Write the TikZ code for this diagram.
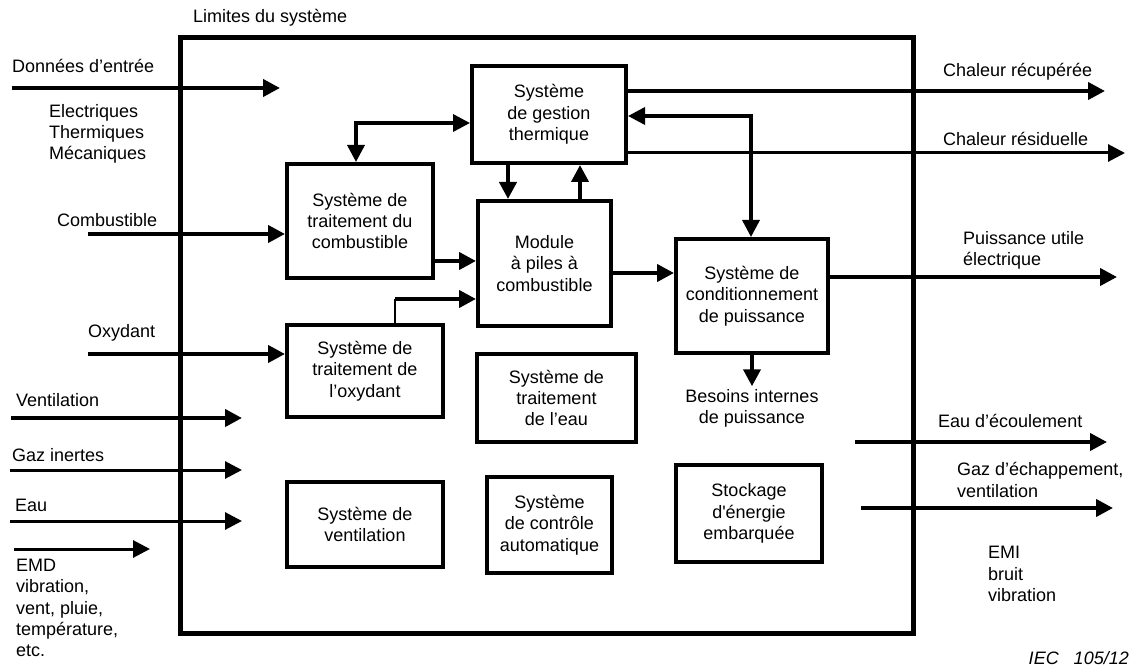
\documentclass[tikz,border=0pt]{standalone}
\usepackage{fontspec}
\setmainfont{Liberation Sans}
\usetikzlibrary{arrows.meta}
\tikzset{
  boundary/.style={ % the system limits
    draw, rectangle, line width=5pt,
    minimum width=733pt, minimum height=595pt
  },
  sysbox/.style={ % image of a subsystem block
    draw, rectangle, line width=4pt,
    align=center, inner sep=2pt, text=black
  },
  lbl/.style={ % free text beside the flows
    anchor=west, inner sep=0pt, align=left
  },
  flow/.style={ % a thick flow arrow
    line width=4pt, -{Triangle[length=17pt,width=17pt]}
  },
  thinflow/.style={
    line width=3pt, -{Triangle[length=17pt,width=17pt]}
  },
  twoway/.style={ % arrow both ways
    line width=3.5pt,
    {Triangle[length=17pt,width=17pt]}-{Triangle[length=17pt,width=17pt]}
  }
}

\begin{document}
\begin{tikzpicture}[x=1pt, y=-1pt, font=\fontsize{18}{21.3}\selectfont]
  \useasboundingbox (0,0) rectangle (1133,668);

  \node[boundary] (limits) at (546.5,335.5) {};
  \node[lbl] (lim_label) at (193,18) {Limites du système};

  % blocks
  \node[sysbox, minimum width=154pt, minimum height=97pt] (GT) at (549,114.5) {Système\\de gestion\\thermique};
  \node[sysbox, minimum width=146pt, minimum height=114pt] (TC) at (360,221) {Système de\\traitement du\\combustible};
  \node[sysbox, minimum width=133pt, minimum height=125pt] (MP) at (544.5,263.5) {Module\\à piles à\\combustible};
  \node[sysbox, minimum width=152pt, minimum height=114pt] (CP) at (752,296) {Système de\\conditionnement\\de puissance};
  \node[sysbox, minimum width=156pt, minimum height=92pt] (TO) at (365,371) {Système de\\traitement de\\l’oxydant};
  \node[sysbox, minimum width=159pt, minimum height=88pt] (TE) at (556.5,398) {Système de\\traitement\\de l’eau};
  \node[sysbox, minimum width=156pt, minimum height=85pt] (SV) at (365,524.5) {Système de\\ventilation};
  \node[sysbox, minimum width=125pt, minimum height=96pt] (CA) at (549.5,525) {Système\\de contrôle\\automatique};
  \node[sysbox, minimum width=146pt, minimum height=97pt] (SE) at (749,513.5) {Stockage\\d\textquotesingle énergie\\embarquée};

  % texts outside
  \node[lbl] (don_label) at (12,66) {Données d’entrée};
  \node[lbl] (nat_label) at (49,134) {Electriques\\Thermiques\\Mécaniques};
  \node[lbl] (comb_label) at (57,220) {Combustible};
  \node[lbl] (ox_label) at (88,333) {Oxydant};
  \node[lbl] (vent_label) at (16,400) {Ventilation};
  \node[lbl] (gaz_label) at (12,455) {Gaz inertes};
  \node[lbl] (eau_label) at (15,505) {Eau};
  \node[lbl] (emd_label) at (16,608) {EMD\\vibration,\\vent, pluie,\\température,\\etc.};
  \node[lbl] (rec_label) at (943,72) {Chaleur récupérée};
  \node[lbl] (res_label) at (943,139) {Chaleur résiduelle};
  \node[lbl] (pu_label) at (963,250) {Puissance utile\\électrique};
  \node[align=center, inner sep=3pt] (bes_label) at (752,408.5) {Besoins internes\\de puissance};
  \node[lbl] (ecoul_label) at (938,421) {Eau d’écoulement};
  \node[lbl] (ech_label) at (957,480) {Gaz d’échappement,\\ventilation};
  \node[lbl] (emi_label) at (988,574) {EMI\\bruit\\vibration};
  \node[anchor=east, inner sep=0pt] (iec_label) at (1129,658) {\itshape IEC\ \ \ 105/12};

  % free ends and bends
  \coordinate (don_in) at (12,88);    \coordinate (don_out) at (280,88);
  \coordinate (comb_in) at (88,234);
  \coordinate (ox_in) at (88,354);
  \coordinate (vent_in) at (11,418);  \coordinate (vent_out) at (242,418);
  \coordinate (gaz_in) at (10,470);   \coordinate (gaz_out) at (242,470);
  \coordinate (eau_in) at (10,521);   \coordinate (eau_out) at (242,521);
  \coordinate (emd_in) at (14,549);   \coordinate (emd_out) at (150,549);
  \coordinate (rec_out) at (1105,91);
  \coordinate (res_out) at (1125,153);
  \coordinate (pu_out) at (1117,277);
  \coordinate (ecoul_in) at (855,442); \coordinate (ecoul_out) at (1107,442);
  \coordinate (ech_in) at (861,508);  \coordinate (ech_out) at (1113,508);
  \coordinate (tcgt) at (356,123);
  \coordinate (gtmp) at (508,180);
  \coordinate (mpgt) at (580,180);
  \coordinate (tcmp) at (455,261);
  \coordinate (tomp) at (395,299);
  \coordinate (mpcp) at (640,273);
  \coordinate (gtcp) at (751,116);

  % inputs
  \draw[flow] (don_in) -- (don_out);
  \draw[flow] (comb_in) -- (comb_in -| TC.west);
  \draw[flow] (ox_in) -- (ox_in -| TO.west);
  \draw[flow] (vent_in) -- (vent_out);
  \draw[thinflow] (gaz_in) -- (gaz_out);
  \draw[thinflow] (eau_in) -- (eau_out);
  \draw[thinflow] (emd_in) -- (emd_out);

  % inside
  \draw[twoway] (GT.west |- tcgt) -| (TC.north -| tcgt);
  \draw[flow] (GT.south -| gtmp) -- (MP.north -| gtmp);
  \draw[flow] (MP.north -| mpgt) -- (GT.south -| mpgt);
  \draw[flow] (TC.east |- tcmp) -- (MP.west |- tcmp);
  \draw[line width=2pt] (TO.north -| tomp) -- (tomp);
  \draw[flow] (tomp) -- (MP.west |- tomp);
  \draw[flow] (MP.east |- mpcp) -- (CP.west |- mpcp);
  \draw[twoway] (GT.east |- gtcp) -| (CP.north -| gtcp);
  \draw[flow] (CP.south) -- (bes_label.north);

  % outputs
  \draw[flow] (GT.east |- rec_out) -- (rec_out);
  \draw[thinflow] (GT.east |- res_out) -- (res_out);
  \draw[flow] (CP.east |- pu_out) -- (pu_out);
  \draw[flow] (ecoul_in) -- (ecoul_out);
  \draw[flow] (ech_in) -- (ech_out);
\end{tikzpicture}
\end{document}
